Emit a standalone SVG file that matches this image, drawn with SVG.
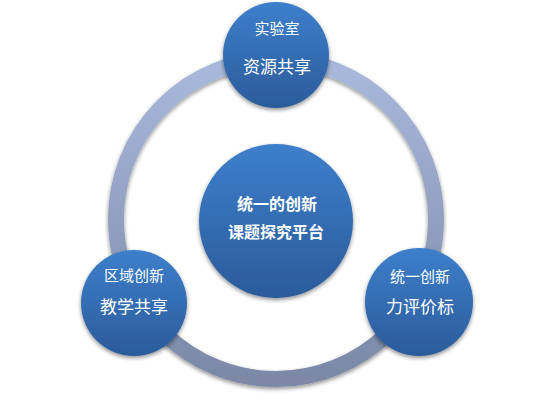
<svg xmlns="http://www.w3.org/2000/svg" width="554" height="410" viewBox="0 0 554 410">
<defs>
<linearGradient id="ringG" x1="0" y1="0" x2="0" y2="1">
<stop offset="0" stop-color="#a9b9dc"/>
<stop offset="1" stop-color="#7b88a6"/>
</linearGradient>
<linearGradient id="nodeG" x1="0" y1="0" x2="0" y2="1">
<stop offset="0" stop-color="#3d7fcb"/>
<stop offset="1" stop-color="#2b5b9a"/>
</linearGradient>
<filter id="sh" x="-20%" y="-20%" width="140%" height="140%">
<feGaussianBlur in="SourceAlpha" stdDeviation="2"/>
<feOffset dx="0" dy="2" result="b"/>
<feComponentTransfer><feFuncA type="linear" slope="0.45"/></feComponentTransfer>
<feMerge><feMergeNode/><feMergeNode in="SourceGraphic"/></feMerge>
</filter>
</defs>
<style>
.node{fill:url(#nodeG);filter:url(#sh)}
.t{fill:#ffffff;font-family:"Noto Sans CJK SC","Noto Sans",sans-serif;text-anchor:middle}
.s{font-size:15px}
.l{font-size:17px}
.b{font-size:16px;font-weight:bold}
</style>
<g id="connectors">
<circle cx="276" cy="219" r="160" fill="none" stroke="url(#ringG)" stroke-width="16" filter="url(#sh)"/>
</g>
<g id="center">
<circle class="node" cx="276" cy="221" r="77"/>
<text class="t b" x="277" y="210">统一的创新</text>
<text class="t b" x="276" y="238">课题探究平台</text>
</g>
<g id="top">
<circle class="node" cx="276" cy="55" r="53"/>
<text class="t s" x="277" y="34">实验室</text>
<text class="t l" x="277" y="73">资源共享</text>
</g>
<g id="left">
<circle class="node" cx="134" cy="303" r="53"/>
<text class="t s" x="134" y="281">区域创新</text>
<text class="t l" x="134" y="313">教学共享</text>
</g>
<g id="right">
<circle class="node" cx="419" cy="302" r="54"/>
<text class="t s" x="420" y="282">统一创新</text>
<text class="t l" x="420" y="313">力评价标</text>
</g>
</svg>
